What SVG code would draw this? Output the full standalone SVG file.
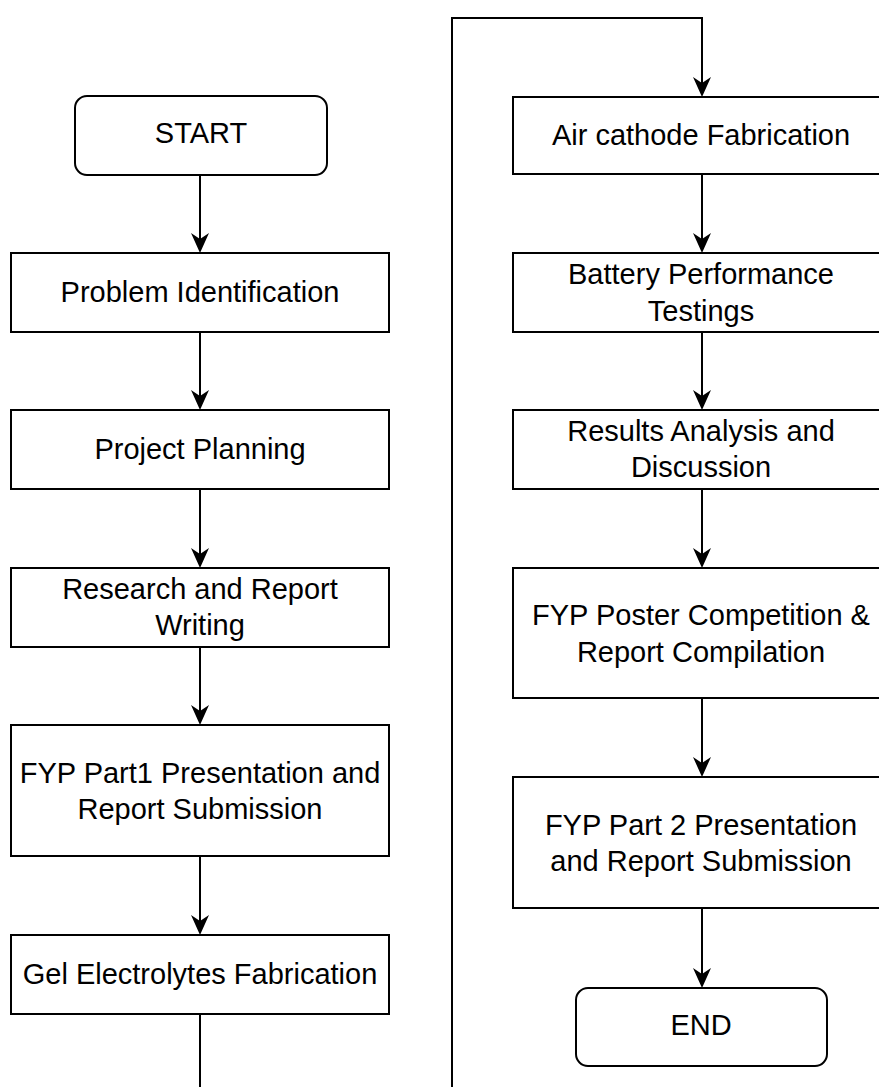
<svg xmlns="http://www.w3.org/2000/svg" width="879" height="1087" viewBox="0 0 879 1087">
<style>
.box{fill:#fff;stroke:#000;stroke-width:2}
.t{font-family:"Liberation Sans",Arial,sans-serif;font-size:29px;fill:#000;text-anchor:middle}
.c{fill:none;stroke:#000;stroke-width:2}
</style>
<defs>
<marker id="arr" viewBox="0 0 20 18" refX="14" refY="9" markerWidth="20" markerHeight="18" markerUnits="userSpaceOnUse" orient="auto">
<path d="M0,0 L20,9 L0,18 L6,9 Z" fill="#000"/>
</marker>
</defs>
<rect width="879" height="1087" fill="#fff"/>
<g id="connectors">
<line class="c" x1="200" y1="175" x2="200" y2="247" marker-end="url(#arr)"/>
<line class="c" x1="200" y1="332" x2="200" y2="404" marker-end="url(#arr)"/>
<line class="c" x1="200" y1="489" x2="200" y2="562" marker-end="url(#arr)"/>
<line class="c" x1="200" y1="647" x2="200" y2="719" marker-end="url(#arr)"/>
<line class="c" x1="200" y1="856" x2="200" y2="929" marker-end="url(#arr)"/>
<line class="c" x1="200" y1="1014" x2="200" y2="1095"/>
<polyline class="c" points="452,1095 452,18 702,18 702,91" marker-end="url(#arr)"/>
<line class="c" x1="702" y1="174" x2="702" y2="247" marker-end="url(#arr)"/>
<line class="c" x1="702" y1="332" x2="702" y2="404" marker-end="url(#arr)"/>
<line class="c" x1="702" y1="489" x2="702" y2="562" marker-end="url(#arr)"/>
<line class="c" x1="702" y1="698" x2="702" y2="771" marker-end="url(#arr)"/>
<line class="c" x1="702" y1="908" x2="702" y2="982" marker-end="url(#arr)"/>
</g>
<g id="start"><rect class="box" x="75" y="96" width="252" height="79" rx="12"/><text class="t" x="201" y="143">START</text></g>
<g id="problem"><rect class="box" x="11" y="253" width="378" height="79"/><text class="t" x="200" y="302">Problem Identification</text></g>
<g id="planning"><rect class="box" x="11" y="410" width="378" height="79"/><text class="t" x="200" y="459">Project Planning</text></g>
<g id="research"><rect class="box" x="11" y="568" width="378" height="79"/><text class="t" x="200" y="599">Research and Report</text><text class="t" x="200" y="635">Writing</text></g>
<g id="fyp1"><rect class="box" x="11" y="725" width="378" height="131"/><text class="t" x="200" y="783">FYP Part1 Presentation and</text><text class="t" x="200" y="819">Report Submission</text></g>
<g id="gel"><rect class="box" x="11" y="935" width="378" height="79"/><text class="t" x="200" y="984">Gel Electrolytes Fabrication</text></g>
<g id="air"><rect class="box" x="513" y="97" width="378" height="77"/><text class="t" x="701" y="145">Air cathode Fabrication</text></g>
<g id="battery"><rect class="box" x="513" y="253" width="378" height="79"/><text class="t" x="701" y="284">Battery Performance</text><text class="t" x="701" y="321">Testings</text></g>
<g id="results"><rect class="box" x="513" y="410" width="378" height="79"/><text class="t" x="701" y="441">Results Analysis and</text><text class="t" x="701" y="477">Discussion</text></g>
<g id="poster"><rect class="box" x="513" y="568" width="378" height="130"/><text class="t" x="701" y="625">FYP Poster Competition &amp;</text><text class="t" x="701" y="662">Report Compilation</text></g>
<g id="fyp2"><rect class="box" x="513" y="777" width="378" height="131"/><text class="t" x="701" y="835">FYP Part 2 Presentation</text><text class="t" x="701" y="871">and Report Submission</text></g>
<g id="end"><rect class="box" x="576" y="988" width="251" height="78" rx="12"/><text class="t" x="701" y="1035">END</text></g>
</svg>
